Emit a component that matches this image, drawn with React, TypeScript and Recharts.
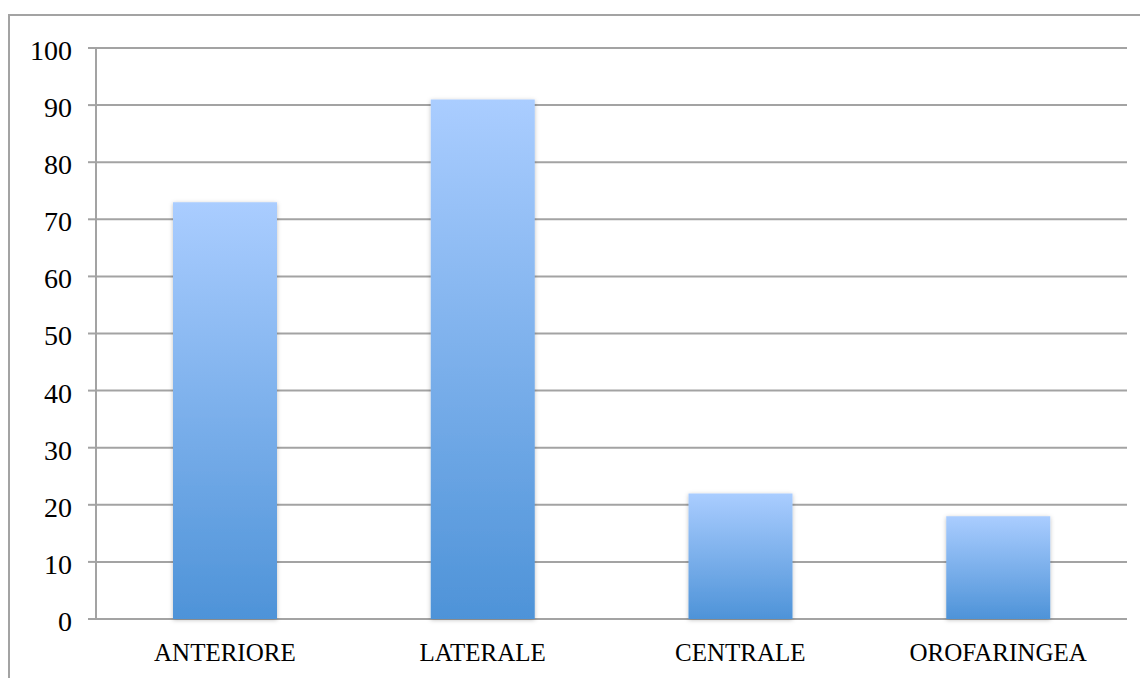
import { BarChart, Bar, XAxis, YAxis, CartesianGrid } from 'recharts'

// Sites and counts
const sites = ['ANTERIORE', 'LATERALE', 'CENTRALE', 'OROFARINGEA']
const counts = [73, 91, 22, 18]
const yTicks = [0, 10, 20, 30, 40, 50, 60, 70, 80, 90, 100]
const edgeTicks = [0, 1, 2, 3, 4]

const data = sites.map((site, i) => ({ site, count: counts[i] }))

const FONT = '"Liberation Serif", "Times New Roman", serif'
const GRID = '#a3a3a3'

export default function App() {
  return (
    <div
      style={{
        marginTop: 6,
        width: 1138,
        height: 662,
        borderTop: `2px solid ${GRID}`,
        borderLeft: `2px solid ${GRID}`,
        fontFamily: FONT,
      }}
    >
      <BarChart width={1138} height={662} data={data} margin={{ top: 32, right: 21, left: 0, bottom: 0 }}>
        <defs>
          <linearGradient id="barFill" x1="0" y1="0" x2="0" y2="1">
            <stop offset="0%" stopColor="#aacdff" />
            <stop offset="100%" stopColor="#4e93d8" />
          </linearGradient>
          <filter id="barShadow" x="-10%" y="-10%" width="120%" height="120%">
            <feDropShadow dx="0" dy="1" stdDeviation="2" floodColor="#000" floodOpacity="0.25" />
          </filter>
        </defs>
        <CartesianGrid xAxisId="cat" vertical={false} stroke={GRID} strokeWidth={2} />
        {/* tick marks between categories */}
        <XAxis
          xAxisId="edge"
          type="number"
          domain={[0, 4]}
          ticks={edgeTicks}
          tick={false}
          tickSize={7}
          height={0}
          stroke={GRID}
          strokeWidth={2}
          tickLine={{ stroke: GRID, strokeWidth: 2 }}
          axisLine={{ stroke: GRID, strokeWidth: 2 }}
        />
        <XAxis
          xAxisId="cat"
          dataKey="site"
          height={59}
          tickLine={false}
          axisLine={false}
          tickSize={0}
          tickMargin={24}
          tick={{ fill: '#000', fontSize: 25, fontFamily: FONT }}
        />
        <YAxis
          width={86}
          domain={[0, 100]}
          ticks={yTicks}
          tickSize={8}
          tickMargin={16}
          tick={{ fill: '#000', fontSize: 28, fontFamily: FONT, dy: 2 }}
          tickLine={{ stroke: GRID, strokeWidth: 2 }}
          axisLine={{ stroke: GRID, strokeWidth: 2 }}
        />
        <Bar
          xAxisId="cat"
          dataKey="count"
          fill="url(#barFill)"
          barSize={104}
          filter="url(#barShadow)"
          isAnimationActive={false}
        />
      </BarChart>
    </div>
  )
}
